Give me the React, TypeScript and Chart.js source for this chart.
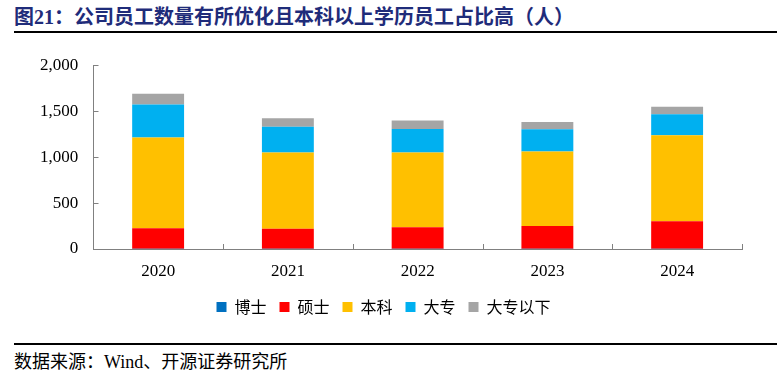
import React, { useEffect, useRef } from "react";
import { Chart, registerables } from "chart.js";

Chart.register(...registerables);

const categories = ["2020", "2021", "2022", "2023", "2024"];
const seriesNames = ["博士", "硕士", "本科", "大专", "大专以下"];
const doctor = [2, 2, 2, 2, 3];
const master = [225, 218, 236, 247, 300];
const bachelor = [986, 830, 812, 812, 935];
const college = [360, 279, 257, 242, 227];
const belowCollege = [116, 93, 90, 79, 83];
const seriesColors = ["#0070C0", "#FF0000", "#FFC000", "#00B0F0", "#A5A5A5"];
const yTicks = [0, 500, 1000, 1500, 2000];

const AXIS_COLOR = "#808080";

const insideTicks = {
  id: "insideTicks",
  afterDatasetsDraw(chart: any) {
    const { ctx, scales } = chart;
    const x = scales.x;
    const y = scales.y;
    ctx.save();
    ctx.strokeStyle = AXIS_COLOR;
    ctx.lineWidth = 1;
    const baseY = y.getPixelForValue(0);
    const n = categories.length;
    const step = x.getPixelForValue(1) - x.getPixelForValue(0);
    for (let i = 0; i <= n; i++) {
      let px = i < n ? x.getPixelForValue(i) - step / 2 : x.getPixelForValue(n - 1) + step / 2;
      px = Math.round(px) + 0.5;
      ctx.beginPath();
      ctx.moveTo(px, baseY);
      ctx.lineTo(px, baseY - 5);
      ctx.stroke();
    }
    const left = Math.round(x.left) + 0.5;
    for (const v of yTicks) {
      const py = Math.round(y.getPixelForValue(v)) + 0.5;
      ctx.beginPath();
      ctx.moveTo(left, py);
      ctx.lineTo(left + 5, py);
      ctx.stroke();
    }
    ctx.restore();
  },
};

export default function App() {
  const ref = useRef<HTMLCanvasElement>(null);
  useEffect(() => {
    const data = [doctor, master, bachelor, college, belowCollege];
    const chart = new Chart(ref.current!, {
      type: "bar",
      data: {
        labels: categories,
        datasets: seriesNames.map((name, i) => ({
          label: name,
          data: data[i],
          backgroundColor: seriesColors[i],
          borderWidth: 0,
          categoryPercentage: 1,
          barPercentage: 0.4,
        })),
      },
      options: {
        animation: false,
        responsive: false,
        maintainAspectRatio: false,
        layout: { padding: { left: 25, right: 39, top: 13, bottom: 15 } },
        plugins: {
          tooltip: { enabled: false },
          legend: {
            position: "bottom",
            labels: {
              boxWidth: 10,
              boxHeight: 10,
              padding: 13,
              color: "#000",
              font: { family: "'Noto Sans CJK SC'", size: 16 },
            },
          },
        },
        scales: {
          x: {
            stacked: true,
            grid: { display: false, drawTicks: false },
            border: { display: true, color: AXIS_COLOR, width: 1 },
            afterFit: (scale: any) => {
              scale.height = 37;
            },
            ticks: {
              color: "#000",
              padding: 12,
              font: { family: "'Liberation Serif'", size: 17 },
            },
          },
          y: {
            stacked: true,
            min: 0,
            max: 2000,
            grid: { display: false, drawTicks: false },
            border: { display: true, color: AXIS_COLOR, width: 1 },
            afterBuildTicks: (scale: any) => {
              scale.ticks = yTicks.map((v) => ({ value: v }));
            },
            ticks: {
              color: "#000",
              padding: 15,
              font: { family: "'Liberation Serif'", size: 17 },
              callback: (v: any) => Number(v).toLocaleString("en-US"),
            },
          },
        },
      },
      plugins: [insideTicks],
    });
    return () => chart.destroy();
  }, []);

  return (
    <div style={{ position: "absolute", left: 0, top: 0, width: 781, height: 372, background: "#fff", overflow: "hidden" }}>
      <div
        style={{
          position: "absolute",
          left: 14,
          top: 5,
          fontFamily: "'Liberation Serif', 'Noto Sans CJK SC'",
          fontWeight: "bold",
          fontSize: 20,
          color: "#1F2C7A",
          whiteSpace: "nowrap",
          lineHeight: "24px",
        }}
      >
        图21：公司员工数量有所优化且本科以上学历员工占比高（人）
      </div>
      <div style={{ position: "absolute", left: 14, top: 31, width: 763, height: 2, background: "#000" }} />
      <div style={{ position: "absolute", left: 0, top: 40, width: 781, height: 300 }}>
        <canvas ref={ref} width={781} height={300} />
      </div>
      <div style={{ position: "absolute", left: 14, top: 343, width: 763, height: 2, background: "#000" }} />
      <div
        style={{
          position: "absolute",
          left: 14,
          top: 351,
          fontFamily: "'Liberation Serif', 'Noto Sans CJK SC'",
          fontSize: 18,
          color: "#000",
          whiteSpace: "nowrap",
          lineHeight: "22px",
        }}
      >
        数据来源：Wind、开源证券研究所
      </div>
    </div>
  );
}
